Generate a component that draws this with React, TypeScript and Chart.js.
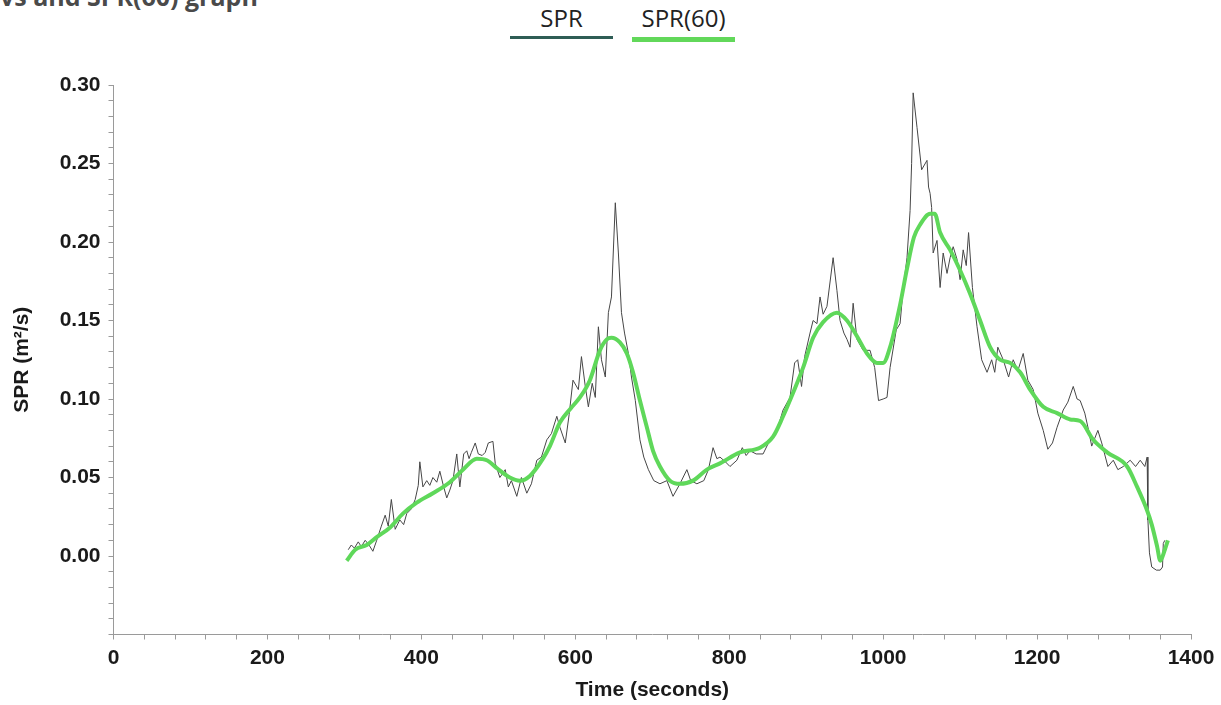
import React, { useEffect, useRef } from "react";
import { Chart, registerables } from "chart.js";

Chart.register(...registerables);

// ---- data ----
const sprTime = [
  305, 309, 313, 318, 322, 327, 332, 337, 342, 348, 353, 357, 361, 366, 372, 377, 381, 387, 392, 396,
  398, 402, 407, 411, 415, 420, 424, 429, 433, 437, 441, 446, 450, 455, 459, 462, 465, 470, 474, 479,
  483, 487, 493, 496, 502, 509, 513, 517, 524, 530, 537, 543, 550, 556, 563, 569, 576, 580, 587, 592,
  597, 604, 608, 613, 617, 622, 626, 630, 634, 639, 643, 647, 652, 656, 660, 664, 669, 673, 678, 684,
  689, 695, 702, 710, 719, 727, 736, 745, 750, 758, 767, 773, 779, 784, 788, 795, 801, 810, 817, 822,
  827, 835, 844, 853, 862, 870, 879, 885, 889, 894, 898, 905, 909, 914, 918, 922, 927, 935, 940, 944,
  949, 953, 957, 961, 966, 974, 983, 989, 994, 1000, 1005, 1009, 1017, 1022, 1026, 1031, 1035, 1037, 1039, 1044,
  1050, 1057, 1059, 1061, 1063, 1065, 1070, 1074, 1078, 1083, 1087, 1091, 1096, 1100, 1104, 1108, 1111, 1116, 1122, 1128,
  1135, 1141, 1145, 1149, 1156, 1163, 1169, 1175, 1182, 1188, 1195, 1201, 1208, 1214, 1220, 1226, 1234, 1240, 1247, 1252,
  1256, 1262, 1267, 1271, 1279, 1284, 1292, 1299, 1305, 1312, 1321, 1328, 1334, 1340, 1343, 1344, 1346, 1349, 1355, 1360,
  1363, 1364, 1366,
];
const sprValues = [
  0.004, 0.007, 0.005, 0.009, 0.006, 0.010, 0.007, 0.003, 0.010, 0.019, 0.026, 0.019, 0.036, 0.017, 0.023, 0.020, 0.027, 0.030, 0.036, 0.045,
  0.060, 0.044, 0.048, 0.045, 0.050, 0.047, 0.054, 0.044, 0.037, 0.042, 0.048, 0.065, 0.044, 0.065, 0.067, 0.062, 0.066, 0.072, 0.065, 0.064,
  0.066, 0.072, 0.073, 0.059, 0.050, 0.055, 0.044, 0.048, 0.038, 0.050, 0.040, 0.046, 0.061, 0.063, 0.074, 0.078, 0.089, 0.082, 0.072, 0.090,
  0.112, 0.106, 0.127, 0.108, 0.095, 0.110, 0.101, 0.146, 0.125, 0.114, 0.155, 0.165, 0.225, 0.193, 0.155, 0.142, 0.129, 0.114, 0.099, 0.074,
  0.063, 0.055, 0.048, 0.046, 0.048, 0.038, 0.046, 0.055, 0.048, 0.046, 0.048, 0.055, 0.069, 0.062, 0.063, 0.060, 0.057, 0.061, 0.069, 0.064,
  0.067, 0.065, 0.065, 0.074, 0.080, 0.093, 0.101, 0.123, 0.125, 0.108, 0.127, 0.142, 0.150, 0.148, 0.165, 0.154, 0.159, 0.190, 0.169, 0.150,
  0.142, 0.138, 0.133, 0.161, 0.138, 0.131, 0.131, 0.120, 0.099, 0.100, 0.101, 0.120, 0.144, 0.148, 0.170, 0.190, 0.220, 0.250, 0.295, 0.273,
  0.246, 0.252, 0.235, 0.231, 0.222, 0.193, 0.201, 0.171, 0.193, 0.180, 0.190, 0.197, 0.189, 0.176, 0.195, 0.185, 0.206, 0.171, 0.146, 0.125,
  0.117, 0.125, 0.117, 0.133, 0.125, 0.114, 0.125, 0.118, 0.129, 0.112, 0.106, 0.091, 0.080, 0.068, 0.072, 0.082, 0.093, 0.098, 0.108, 0.100,
  0.099, 0.091, 0.080, 0.070, 0.080, 0.072, 0.057, 0.061, 0.055, 0.057, 0.061, 0.057, 0.061, 0.057, 0.063, 0.023, 0.002, -0.007, -0.009, -0.009,
  -0.007, 0.008, 0.010,
];

const smoothTime = [
  303, 314, 329, 342, 359, 376, 394, 415, 437, 454, 472, 485, 498, 515, 528, 541, 558, 567, 580, 594,
  606, 619, 632, 641, 647, 658, 667, 675, 684, 693, 701, 710, 723, 736, 753, 771, 788, 814, 840, 857,
  870, 883, 896, 909, 922, 940, 953, 966, 979, 992, 1000, 1009, 1022, 1031, 1040, 1048, 1061, 1067, 1074, 1087,
  1100, 1113, 1126, 1139, 1152, 1165, 1178, 1191, 1208, 1226, 1243, 1256, 1273, 1291, 1317, 1330, 1343, 1349, 1356, 1360,
  1366, 1370,
];
const smoothValues = [
  -0.003, 0.004, 0.007, 0.012, 0.018, 0.027, 0.034, 0.040, 0.047, 0.055, 0.062, 0.061, 0.056, 0.050, 0.048, 0.051, 0.062, 0.070, 0.085, 0.094,
  0.101, 0.112, 0.131, 0.138, 0.139, 0.136, 0.129, 0.117, 0.099, 0.082, 0.067, 0.057, 0.048, 0.046, 0.048, 0.055, 0.059, 0.066, 0.069, 0.076,
  0.089, 0.104, 0.120, 0.139, 0.149, 0.155, 0.150, 0.140, 0.129, 0.123, 0.123, 0.133, 0.160, 0.183, 0.203, 0.211, 0.218, 0.218, 0.206, 0.195,
  0.182, 0.167, 0.150, 0.133, 0.125, 0.123, 0.117, 0.106, 0.095, 0.091, 0.087, 0.086, 0.074, 0.066, 0.057, 0.044, 0.029, 0.020, 0.006, -0.003,
  0.004, 0.010,
];

const legendLabels = ["SPR", "SPR(60)"];
const xLabelStep = 200;
const yLabelStep = 0.05;

const FONT = "'Liberation Sans', Arial, sans-serif";

export default function App() {
  const canvasRef = useRef<HTMLCanvasElement | null>(null);

  useEffect(() => {
    const canvas = canvasRef.current;
    if (!canvas) return;
    const tickFont = { family: FONT, size: 21, weight: "bold" as const };
    const chart = new Chart(canvas, {
      type: "line",
      data: {
        datasets: [
          {
            label: legendLabels[0],
            data: sprTime.map((t, i) => ({ x: t, y: sprValues[i] })),
            borderColor: "#464646",
            borderWidth: 1,
            pointRadius: 0,
            tension: 0,
            fill: false,
            order: 2,
          },
          {
            label: legendLabels[1],
            data: smoothTime.map((t, i) => ({ x: t, y: smoothValues[i] })),
            borderColor: "#5fd85a",
            borderWidth: 4,
            pointRadius: 0,
            cubicInterpolationMode: "monotone",
            fill: false,
            order: 1,
          },
        ],
      },
      options: {
        responsive: false,
        animation: false,
        devicePixelRatio: 1,
        layout: { padding: { top: 85, right: 30, left: 0, bottom: 0 } },
        plugins: { legend: { display: false }, tooltip: { enabled: false } },
        scales: {
          x: {
            type: "linear",
            min: 0,
            max: 1400,
            afterFit: (s: any) => {
              s.height = 70.5;
            },
            ticks: {
              stepSize: 40,
              autoSkip: false,
              maxRotation: 0,
              padding: 6,
              color: "#1a1a1a",
              font: tickFont,
              callback: (v: any) => (Math.round(v) % xLabelStep === 0 ? String(Math.round(v)) : ""),
            },
            grid: { drawOnChartArea: false, tickLength: 5, color: "#9a9a9a" },
            border: { color: "#9a9a9a" },
            title: {
              display: true,
              text: "Time (seconds)",
              color: "#1a1a1a",
              font: tickFont,
              padding: { top: 0, bottom: 2 },
            },
          },
          y: {
            type: "linear",
            min: -0.05,
            max: 0.3,
            afterFit: (s: any) => {
              s.width = 113.5;
            },
            ticks: {
              stepSize: 0.01,
              autoSkip: false,
              maxTicksLimit: 100,
              padding: 8,
              color: "#1a1a1a",
              font: tickFont,
              callback: (v: any) => {
                const n = Math.round(v * 100);
                return n >= 0 && n % Math.round(yLabelStep * 100) === 0 ? (n / 100).toFixed(2) : "";
              },
            },
            grid: { drawOnChartArea: false, tickLength: 5, color: "#9a9a9a" },
            border: { color: "#9a9a9a" },
            title: {
              display: true,
              text: "SPR (m²/s)",
              color: "#1a1a1a",
              font: tickFont,
              padding: { top: 10, bottom: 0 },
            },
          },
        },
      },
    });
    return () => chart.destroy();
  }, []);

  return (
    <div style={{ position: "absolute", left: 0, top: 0, width: 1221, height: 705, background: "#fff", overflow: "hidden" }}>
      <div
        style={{
          position: "absolute",
          left: 0,
          top: -16,
          fontFamily: "'Open Sans', sans-serif",
          fontWeight: 700,
          fontSize: 25,
          lineHeight: "25px",
          color: "#4a4a4a",
          whiteSpace: "nowrap",
        }}
      >
        vs and SPR(60) graph
      </div>
      <div style={{ position: "absolute", left: 500, top: 6, width: 123, textAlign: "center", fontFamily: "'Open Sans', sans-serif", fontSize: 24, lineHeight: "24px", color: "#222" }}>
        {legendLabels[0]}
      </div>
      <div style={{ position: "absolute", left: 510, top: 36, width: 103, height: 3, background: "#2e5d55" }} />
      <div style={{ position: "absolute", left: 620, top: 6, width: 127, textAlign: "center", fontFamily: "'Open Sans', sans-serif", fontSize: 24, lineHeight: "24px", color: "#222" }}>
        {legendLabels[1]}
      </div>
      <div style={{ position: "absolute", left: 632, top: 37, width: 103, height: 5, background: "#62d85a" }} />
      <canvas ref={canvasRef} width={1221} height={705} style={{ position: "absolute", left: 0, top: 0, width: 1221, height: 705 }} />
    </div>
  );
}
